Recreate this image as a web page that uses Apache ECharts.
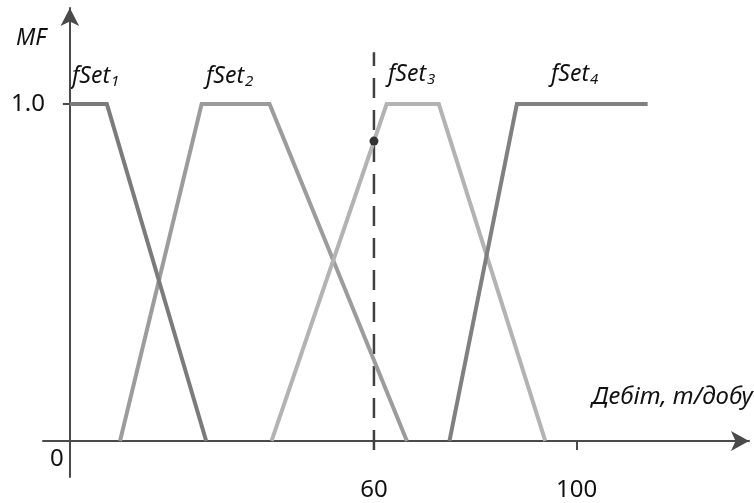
<!DOCTYPE html>
<html>
<head>
<meta charset="utf-8">
<script src="https://cdn.jsdelivr.net/npm/echarts@6/dist/echarts.min.js"></script>
<style>
  html, body { margin: 0; padding: 0; background: #fff; }
  #chart { width: 754px; height: 503px; }
</style>
</head>
<body>
<div id="chart"></div>
<script>
    'use strict';

    // membership function break points (x = дебіт, y = MF)
    const fSet1X = [0, 7.3, 26.9];
    const fSet1Y = [1, 1, 0];
    const fSet2X = [9.9, 26.0, 39.4, 66.5];
    const fSet2Y = [0, 1, 1, 0];
    const fSet3X = [39.8, 62.5, 72.8, 93.8];
    const fSet3Y = [0, 1, 1, 0];
    const fSet4X = [74.9, 88.2, 114.0];
    const fSet4Y = [0, 1, 1];

    const cutX = [60, 60];
    const cutY = [-0.027, 1.154];
    const pointX = [60];
    const pointY = [0.89];

    const xTicks = [60, 100];
    const yTicks = [1];

    const axisColor = '#4a4a4a';
    const font = 'Noto Sans';

    const pairs = (xs, ys) => xs.map((x, i) => [x, ys[i]]);

    const mfSeries = (data, color) => ({
        type: 'line',
        data,
        showSymbol: false,
        symbol: 'none',
        silent: true,
        lineStyle: { color, width: 4, cap: 'butt', join: 'miter' }
    });

    const subLabel = (name, idx, left, top) => ({
        type: 'text',
        left,
        top,
        style: {
            text: `{a|${name}}{b|${idx}}`,
            rich: {
                a: { fontFamily: font, fontStyle: 'italic', fontSize: 23, fill: '#111' },
                b: { fontFamily: font, fontStyle: 'italic', fontSize: 15, fill: '#111', padding: [10, 0, 0, 1] }
            }
        }
    });

    const chart = echarts.init(document.getElementById('chart'));

    chart.setOption({
        animation: false,
        grid: {
            left: 43, right: 5, top: 8, bottom: 26,
            containLabel: false,
            outerBoundsMode: 'none'
        },
        xAxis: {
            type: 'value',
            min: -5.3,
            max: 134,
            splitLine: { show: false },
            axisLine: {
                onZero: true,
                symbol: ['none', 'arrow'],
                symbolSize: [15, 18],
                lineStyle: { color: axisColor, width: 2 }
            },
            axisTick: {
                show: true,
                customValues: xTicks,
                length: 9,
                lineStyle: { color: axisColor, width: 2 }
            },
            axisLabel: {
                customValues: xTicks,
                margin: 1,
                color: '#111',
                fontFamily: font,
                fontSize: 24
            }
        },
        yAxis: {
            type: 'value',
            min: -0.107,
            max: 1.285,
            splitLine: { show: false },
            axisLine: {
                onZero: true,
                symbol: ['none', 'arrow'],
                symbolSize: [14, 18],
                lineStyle: { color: axisColor, width: 2 }
            },
            axisTick: {
                show: true,
                customValues: yTicks,
                length: 7,
                lineStyle: { color: axisColor, width: 2 }
            },
            axisLabel: {
                customValues: yTicks,
                formatter: v => v.toFixed(1),
                margin: -2,
                color: '#111',
                fontFamily: font,
                fontSize: 24
            }
        },
        graphic: [
            {
                type: 'text', left: 16, top: 27,
                style: { text: 'MF', fontFamily: font, fontStyle: 'italic', fontSize: 23, fill: '#111' }
            },
            {
                type: 'text', left: 50, top: 447,
                style: { text: '0', fontFamily: font, fontSize: 24, fill: '#111' }
            },
            {
                type: 'text', right: 1, top: 385,
                style: { text: 'Дебіт, т/добу', fontFamily: font, fontStyle: 'italic', fontSize: 24, fill: '#111' }
            },
            subLabel('fSet', 1, 72, 65),
            subLabel('fSet', 2, 206, 65),
            subLabel('fSet', 3, 388, 63),
            subLabel('fSet', 4, 551, 63)
        ],
        series: [
            {
                type: 'line',
                data: pairs(cutX, cutY),
                symbol: 'none',
                silent: true,
                lineStyle: { color: '#404040', width: 2.5, type: [20, 12] }
            },
            mfSeries(pairs(fSet2X, fSet2Y), '#9c9c9c'),
            mfSeries(pairs(fSet3X, fSet3Y), '#b3b3b3'),
            mfSeries(pairs(fSet1X, fSet1Y), '#7b7b7b'),
            mfSeries(pairs(fSet4X, fSet4Y), '#808080'),
            {
                type: 'scatter',
                data: pairs(pointX, pointY),
                symbolSize: 9,
                silent: true,
                z: 10,
                itemStyle: { color: '#333', opacity: 1 }
            }
        ]
    });
</script>
</body>
</html>
